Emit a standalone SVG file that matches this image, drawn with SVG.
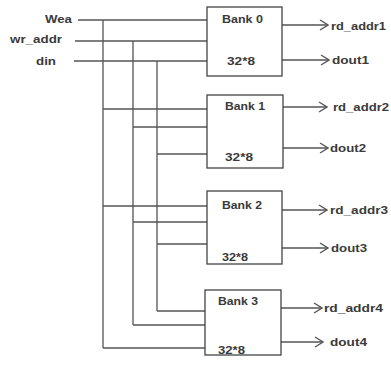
<svg xmlns="http://www.w3.org/2000/svg" width="391" height="366" viewBox="0 0 391 366">
  <style>
    .wire { fill: none; stroke: #555; stroke-width: 1.3; }
    .box { fill: #fff; stroke: #444; stroke-width: 1.3; }
    .lbl { font-family: "Liberation Sans", Arial, sans-serif; font-size: 10px; font-weight: bold; fill: #3a3a3a; }
  </style>
  <defs>
    <marker id="chev" viewBox="0 0 10 12" refX="9" refY="6" markerWidth="10" markerHeight="12" markerUnits="userSpaceOnUse" orient="auto">
      <path d="M1,1 L9,6 L1,11" fill="none" stroke="#555" stroke-width="1.3"/>
    </marker>
  </defs>

  <rect width="391" height="366" fill="#fff"/>

  <!-- input signal names -->
  <g id="inputs">
    <text class="lbl" x="45" y="23" textLength="27" lengthAdjust="spacingAndGlyphs">Wea</text>
    <text class="lbl" x="10" y="43" textLength="52" lengthAdjust="spacingAndGlyphs">wr_addr</text>
    <text class="lbl" x="36" y="65" textLength="20" lengthAdjust="spacingAndGlyphs">din</text>
  </g>

  <!-- wiring: shared input buses and output arrows -->
  <g id="connectors">
    <!-- Wea bus -->
    <path class="wire" d="M78,20 H207 M103,20 V348 M103,109 H207 M103,206 H207 M103,348 H205"/>
    <!-- wr_addr bus -->
    <path class="wire" d="M75,41 H207 M133,41 V325 M133,127 H207 M133,222 H207 M133,325 H205"/>
    <!-- din bus -->
    <path class="wire" d="M74,61 H207 M157,61 V311 M157,154 H207 M157,244 H207 M157,311 H205"/>
    <!-- outputs -->
    <path class="wire" d="M282,25 H328" marker-end="url(#chev)"/>
    <path class="wire" d="M282,60 H329" marker-end="url(#chev)"/>
    <path class="wire" d="M283,107 H327" marker-end="url(#chev)"/>
    <path class="wire" d="M283,148 H328" marker-end="url(#chev)"/>
    <path class="wire" d="M282,210 H327" marker-end="url(#chev)"/>
    <path class="wire" d="M282,248 H328" marker-end="url(#chev)"/>
    <path class="wire" d="M281,308 H322" marker-end="url(#chev)"/>
    <path class="wire" d="M281,342 H323" marker-end="url(#chev)"/>
  </g>

  <g id="bank0">
    <rect class="box" x="207" y="7" width="75" height="69"/>
    <text class="lbl" x="222" y="23" textLength="41" lengthAdjust="spacingAndGlyphs">Bank 0</text>
    <text class="lbl" x="227" y="65" textLength="28" lengthAdjust="spacingAndGlyphs">32*8</text>
  </g>
  <g id="bank1">
    <rect class="box" x="207" y="95" width="76" height="73"/>
    <text class="lbl" x="225" y="110" textLength="40" lengthAdjust="spacingAndGlyphs">Bank 1</text>
    <text class="lbl" x="225" y="161" textLength="28" lengthAdjust="spacingAndGlyphs">32*8</text>
  </g>
  <g id="bank2">
    <rect class="box" x="207" y="191" width="75" height="73"/>
    <text class="lbl" x="222" y="209" textLength="40" lengthAdjust="spacingAndGlyphs">Bank 2</text>
    <text class="lbl" x="222" y="261" textLength="26" lengthAdjust="spacingAndGlyphs">32*8</text>
  </g>
  <g id="bank3">
    <rect class="box" x="205" y="290" width="76" height="65"/>
    <text class="lbl" x="218" y="305" textLength="40" lengthAdjust="spacingAndGlyphs">Bank 3</text>
    <text class="lbl" x="218" y="354" textLength="27" lengthAdjust="spacingAndGlyphs">32*8</text>
  </g>

  <!-- output signal names -->
  <g id="outputs">
    <text class="lbl" x="331" y="30" textLength="55" lengthAdjust="spacingAndGlyphs">rd_addr1</text>
    <text class="lbl" x="332" y="64" textLength="37" lengthAdjust="spacingAndGlyphs">dout1</text>
    <text class="lbl" x="333" y="111" textLength="56" lengthAdjust="spacingAndGlyphs">rd_addr2</text>
    <text class="lbl" x="330" y="152" textLength="36" lengthAdjust="spacingAndGlyphs">dout2</text>
    <text class="lbl" x="330" y="214" textLength="58" lengthAdjust="spacingAndGlyphs">rd_addr3</text>
    <text class="lbl" x="331" y="252" textLength="36" lengthAdjust="spacingAndGlyphs">dout3</text>
    <text class="lbl" x="324" y="312" textLength="59" lengthAdjust="spacingAndGlyphs">rd_addr4</text>
    <text class="lbl" x="330" y="346" textLength="37" lengthAdjust="spacingAndGlyphs">dout4</text>
  </g>
</svg>
